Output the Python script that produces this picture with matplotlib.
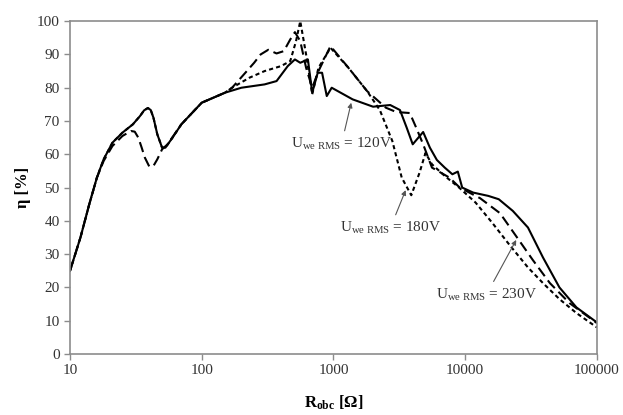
import matplotlib
matplotlib.use("Agg")
import matplotlib.pyplot as plt

plt.rcParams['font.family'] = ['Liberation Serif', 'DejaVu Serif']
plt.rcParams['mathtext.fontset'] = 'custom'
plt.rcParams['mathtext.rm'] = 'Liberation Serif'
plt.rcParams['mathtext.bf'] = 'Liberation Serif:bold'
plt.rcParams['mathtext.it'] = 'Liberation Serif:italic'

# U = 120V (solid)
r_120 = [10, 12, 14, 16, 18, 21, 25, 30, 34, 36.5, 39, 41, 43, 46, 50, 53, 60, 70, 100, 150, 200,
         300, 370, 450, 510, 560, 640, 690, 760, 820, 890, 970, 1400, 2000, 2700, 3200, 3600,
         4000, 4800, 5400, 6100, 7000, 8000, 8800, 9500, 11500, 15000, 18000, 23000, 30000,
         39000, 52000, 70000, 100000]
eta_120 = [25, 35, 45, 53, 58.5, 63.5, 66.5, 69, 71.5, 73.2, 73.9, 73.3, 71, 66, 62, 62, 65, 69, 75.5, 78.5, 80,
           81, 82, 86.5, 88.5, 87.5, 88.5, 78.5, 84.5, 84.5, 77.5, 80, 76.5, 74.3, 74.8, 73.3, 68,
           63, 66.7, 62, 58.3, 56, 54, 54.8, 50, 48.5, 47.5, 46.5, 43, 38,
           29, 20, 14, 9.5]

# U = 180V (short dashes)
r_180 = [10, 12, 14, 16, 18, 21, 25, 30, 34, 36.5, 39, 41, 43, 46, 50, 53, 60, 70, 100, 150, 170,
         230, 300, 400, 470, 520, 560, 620, 690, 770, 950, 1300, 1800, 2250, 2800, 3300, 3900,
         4500, 5000, 5600, 7000, 9000, 12000, 16000, 22000, 30000, 39000, 52000, 70000, 100000]
eta_180 = [25, 35, 45, 53, 58.5, 63.5, 66.5, 69, 71.5, 73.2, 73.9, 73.3, 71, 66, 62, 62, 65, 69, 75.5, 78.5, 80,
           83, 85, 86.5, 88, 94, 100, 90, 78, 86, 92, 86, 79, 73.3, 64, 53, 47.7,
           54.4, 60.4, 57, 53.5, 50, 45.5, 39.5, 32.5, 26, 21.3, 16.5, 12.3, 8]

# U = 230V (long dashes)
r_230 = [10, 12, 14, 16, 18, 21, 25, 29, 31, 33, 35, 37, 40, 43, 46, 50, 55, 70, 100, 150, 170,
         220, 250, 280, 320, 370, 420, 470, 510, 560, 620, 690, 770, 950, 1300, 1800, 2500, 3000,
         3800, 4250, 4800, 5600, 7600, 9100, 13000, 18400, 24700, 32700, 44000, 62000, 100000]
eta_230 = [25, 35, 45, 53, 58, 62.5, 65.5, 67, 66.8, 65, 62, 59, 56.3, 56.5, 58.5, 61.5, 63, 69, 75.5, 78.5, 80,
           85, 87.5, 90, 91.4, 90.3, 91, 94.5, 96.7, 94, 86, 80, 85, 92.5, 86, 79, 74, 72.7,
           72.4, 68, 63, 56, 53, 50, 46.8, 42.3, 35.1, 28.2, 21.3, 15.3, 9.3]

fig = plt.figure(figsize=(6.23, 4.15), dpi=100)
ax = fig.add_axes([0.1124, 0.147, 0.8456, 0.802])

ax.plot(r_120, eta_120, color='black', lw=1.5, linestyle='-')
ax.plot(r_180, eta_180, color='black', lw=1.5, linestyle=(0, (2, 1.5)))
ax.plot(r_230, eta_230, color='black', lw=1.5, linestyle=(0, (5, 2.5)))

ax.set_xscale('log')
ax.set_xlim(10, 100000)
ax.set_ylim(0, 100)
ax.set_yticks(range(0, 101, 10))
ax.set_xticks([10, 100, 1000, 10000, 100000])
ax.set_xticklabels(['10', '100', '1000', '10000', '100000'])
ax.minorticks_off()
for s in ax.spines.values():
    s.set_color('#8c8c8c')
    s.set_linewidth(1.2)
ax.tick_params(colors='#8c8c8c', labelcolor='#333333', labelsize=11, length=4, width=1.0)

ax.set_ylabel('η [%]', fontsize=12, fontweight='bold', labelpad=4)
ax.set_xlabel(r'$\mathbf{R_{obc}}$ [Ω]', fontsize=12, fontweight='bold', labelpad=12)

arrow = dict(arrowstyle='-|>', color='#555555', lw=0.8, mutation_scale=7)
ax.annotate(r'U$_{\mathrm{we\ RMS}}$ = 120V', xy=(1380, 76.3), xytext=(1150, 63),
            ha='center', va='center', fontsize=11, color='#333333', arrowprops=arrow)
ax.annotate(r'U$_{\mathrm{we\ RMS}}$ = 180V', xy=(3600, 50), xytext=(2700, 37.8),
            ha='center', va='center', fontsize=11, color='#333333', arrowprops=arrow)
ax.annotate(r'U$_{\mathrm{we\ RMS}}$ = 230V', xy=(25000, 35), xytext=(14500, 17.8),
            ha='center', va='center', fontsize=11, color='#333333', arrowprops=arrow)

fig.savefig('out.png', dpi=100)
